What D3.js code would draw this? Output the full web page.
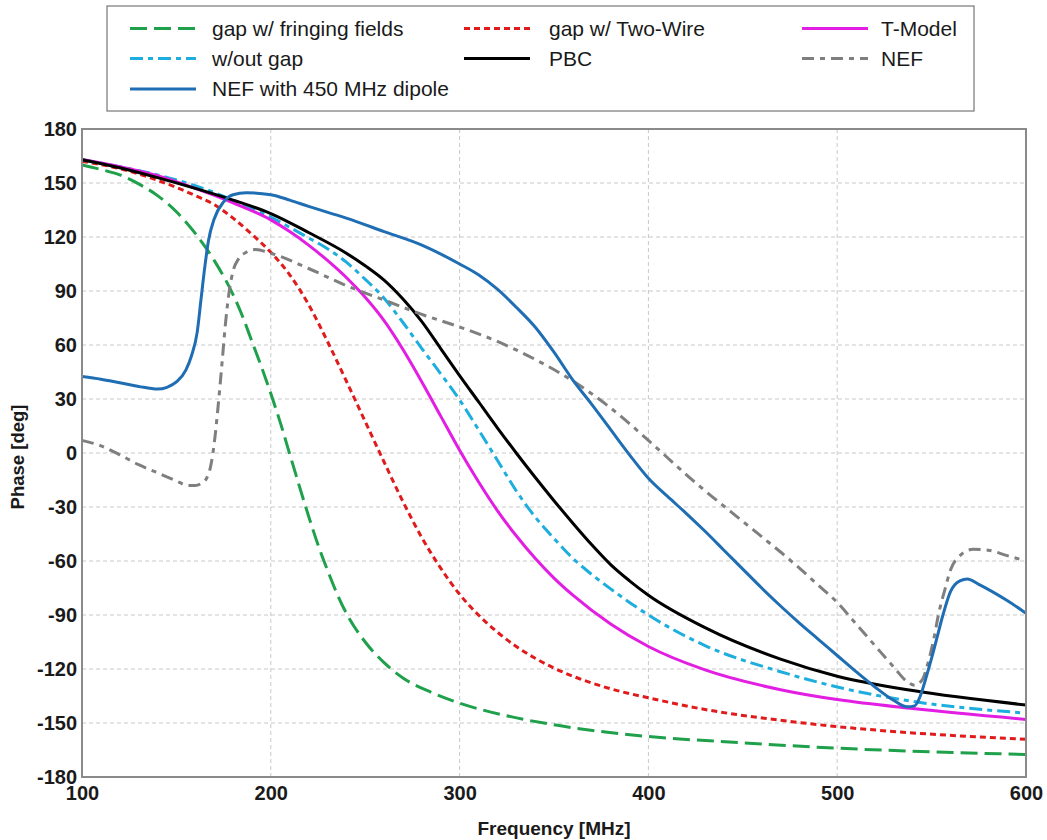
<!DOCTYPE html>
<html>
<head>
<meta charset="utf-8">
<script src="https://cdn.jsdelivr.net/npm/d3@7"></script>
<style>
  body { margin: 0; background: #fff; }
  svg { display: block; }
  text { font-family: "Liberation Sans", Arial, sans-serif; }
</style>
</head>
<body>
<svg id="chart" width="1047" height="840"></svg>
<script>
// ---------- data ----------
const xTicks = [100, 200, 300, 400, 500, 600];
const yTicks = [-180, -150, -120, -90, -60, -30, 0, 30, 60, 90, 120, 150, 180];

const seriesNames = ["gap w/ fringing fields", "gap w/ Two-Wire", "T-Model",
                     "w/out gap", "PBC", "NEF", "NEF with 450 MHz dipole"];

const greenF = [100,110,120,130,140,150,160,170,180,185,190,195,200,205,210,215,220,225,230,235,240,250,260,270,285,300,325,350,400,450,500,550,600];
const greenP = [160,157.5,154.5,149.5,143,134,122,107,88,76,62,48,33,17,-0.5,-18,-35,-51,-65,-78,-89,-105,-116.5,-125,-133,-139,-146,-151,-157.5,-161,-164,-166,-167.5];

const redF = [100,120,140,160,170,180,190,200,210,220,230,240,250,260,270,280,290,300,310,320,330,340,350,360,380,400,430,470,500,540,600];
const redP = [162,158,151.5,143,138,130.5,121.5,111.5,99,82.5,62,40,17.5,-5,-27,-47,-64,-78.5,-90,-99.5,-107.5,-114,-119.5,-124,-131,-136,-142.5,-148.5,-152,-155.5,-159];

const magentaF = [100,120,140,160,180,200,210,220,230,240,250,260,270,280,290,300,310,320,330,340,350,360,380,400,430,470,500,540,600];
const magentaP = [163,159,154,147,139,129.5,123,115.5,107,97.5,86.5,73.5,57.5,39.5,20.5,1.5,-16,-32,-46,-58.5,-69.5,-79,-95,-107.5,-120.5,-131.5,-137,-142,-148];

const cyanF = [100,120,140,160,180,200,220,230,240,250,260,270,280,290,300,310,320,330,340,350,360,370,380,400,430,470,500,540,600];
const cyanP = [163,159,154.5,148.5,140.5,131,119.5,113.5,106,96.5,86,72.5,58,44,29.5,13,-4,-21,-35.5,-47.5,-58.5,-67.5,-75.5,-90,-107,-121.5,-130,-138,-144.5];

const blackF = [100,120,140,160,180,200,220,240,250,260,270,280,290,300,310,320,330,340,350,360,370,380,390,400,430,470,500,540,600];
const blackP = [163,158.5,153,147,140.5,133,122.5,111,104,96,85.5,73,58,43,28.5,14,0,-13.5,-26.5,-39,-51,-62,-71,-79,-97,-114.5,-124,-132,-140];

const grayF = [100,110,120,130,140,150,156,160,163,166,168,170,172,174,176,178,180,183,187,192,200,220,240,260,280,300,320,340,360,380,400,410,420,430,440,450,460,470,480,490,500,510,520,530,537,541,545,548,551,554,557,560,565,572,580,590,600];
const grayP = [7,4,-1,-6.5,-11,-15.5,-18,-18,-17,-14,-8,5,25,48,72,90,101,108,111.5,113,111,102.5,93,85,77,70,62,52,40,25,7,-2.5,-12,-21,-29.5,-38,-46.5,-55,-64,-73.5,-83,-95,-107,-119,-127,-129,-126,-117,-104,-88,-76,-65,-57,-53.5,-54,-57,-60];

const blueF = [100,110,120,130,140,145,150,155,158,161,163,165,167,170,175,180,187,200,210,220,240,260,280,300,310,320,330,340,350,360,370,380,390,400,410,420,430,440,450,460,470,480,490,500,510,520,530,537,541,544,547,550,553,556,560,565,569,575,590,600];
const blueP = [42.5,41,39,37,35.5,36.5,39.5,46,54,67,85,103,118,130,139.5,143.5,144.6,143.5,140.5,137,130.5,123,115.5,105,99,91,81,70,56,40.5,27,13,-1,-14,-24,-33.5,-43.5,-54,-64.5,-75,-85,-94.5,-103.5,-112.5,-121.5,-130,-137.5,-141,-140.5,-135,-125,-114,-102,-90,-77,-71,-70,-73,-82,-89];

// ---------- layout ----------
const svg = d3.select("#chart");
const L = 82, R = 1026, T = 129, B = 777;
const x = d3.scaleLinear().domain([100, 600]).range([L, R]);
const y = d3.scaleLinear().domain([-180, 180]).range([B, T]);

const series = [
  { name: seriesNames[0], f: greenF,   p: greenP,   color: "#1fa04b", dash: "17,7" },
  { name: seriesNames[1], f: redF,     p: redP,     color: "#e01b1b", dash: "6,4" },
  { name: seriesNames[2], f: magentaF, p: magentaP, color: "#e21ee2", dash: null },
  { name: seriesNames[3], f: cyanF,    p: cyanP,    color: "#1eaede", dash: "13,5,5,5" },
  { name: seriesNames[4], f: blackF,   p: blackP,   color: "#000000", dash: null },
  { name: seriesNames[5], f: grayF,    p: grayP,    color: "#7f7f7f", dash: "12,6,5,6" },
  { name: seriesNames[6], f: blueF,    p: blueP,    color: "#1f6eb4", dash: null }
];

// grid
const grid = svg.append("g");
grid.selectAll("line.v").data(xTicks.slice(1, -1)).join("line")
  .attr("x1", d => x(d)).attr("x2", d => x(d)).attr("y1", T).attr("y2", B)
  .attr("stroke", "#c8c8c8").attr("stroke-width", 1).attr("stroke-dasharray", "4,3");
grid.selectAll("line.h").data(yTicks.slice(1, -1)).join("line")
  .attr("x1", L).attr("x2", R).attr("y1", d => y(d)).attr("y2", d => y(d))
  .attr("stroke", "#c8c8c8").attr("stroke-width", 1).attr("stroke-dasharray", "4,3");

// clip
svg.append("defs").append("clipPath").attr("id", "clip")
  .append("rect").attr("x", L).attr("y", T).attr("width", R - L).attr("height", B - T);

const line = d3.line().x(d => x(d[0])).y(d => y(d[1])).curve(d3.curveMonotoneX);
const plot = svg.append("g").attr("clip-path", "url(#clip)");
const drawOrder = [0, 1, 3, 2, 4, 5, 6];
drawOrder.forEach(i => {
  const s = series[i];
  plot.append("path")
    .datum(s.f.map((f, k) => [f, s.p[k]]))
    .attr("d", line)
    .attr("fill", "none")
    .attr("stroke", s.color)
    .attr("stroke-width", 3)
    .attr("stroke-dasharray", s.dash)
    .attr("stroke-linejoin", "round");
});

// frame
svg.append("rect").attr("x", L).attr("y", T).attr("width", R - L).attr("height", B - T)
  .attr("fill", "none").attr("stroke", "#8a8a8a").attr("stroke-width", 2);

// axes (tick labels only, ASCII hyphen for negatives as in the reference)
const fmt = d => String(d);
const yAxis = d3.axisLeft(y).tickValues(yTicks).tickFormat(fmt).tickSize(0).tickPadding(5);
const gy = svg.append("g").attr("transform", `translate(${L},0)`).call(yAxis);
gy.select(".domain").remove();
gy.selectAll("text").attr("font-size", 20).attr("font-weight", "bold").attr("fill", "#1a1a1a")
  .attr("font-family", "'Liberation Sans', Arial, sans-serif");

const xAxis = d3.axisBottom(x).tickValues(xTicks).tickFormat(fmt).tickSize(0).tickPadding(9);
const gx = svg.append("g").attr("transform", `translate(0,${B})`).call(xAxis);
gx.select(".domain").remove();
gx.selectAll("text").attr("font-size", 20).attr("font-weight", "bold").attr("fill", "#1a1a1a")
  .attr("font-family", "'Liberation Sans', Arial, sans-serif");

// axis titles
svg.append("text").attr("x", 554).attr("y", 835).attr("text-anchor", "middle")
  .attr("font-size", 19).attr("font-weight", "bold").attr("fill", "#1a1a1a").text("Frequency [MHz]");
svg.append("text").attr("transform", `translate(24,457) rotate(-90)`)
  .attr("text-anchor", "middle").attr("font-size", 18.5).attr("font-weight", "bold")
  .attr("fill", "#1a1a1a").text("Phase [deg]");

// legend
const leg = svg.append("g");
leg.append("rect").attr("x", 107).attr("y", 6).attr("width", 867).attr("height", 105)
  .attr("fill", "#fff").attr("stroke", "#777").attr("stroke-width", 1.2);
const legendPos = [
  { i: 0, col: 0, row: 0 }, { i: 1, col: 1, row: 0 }, { i: 2, col: 2, row: 0 },
  { i: 3, col: 0, row: 1 }, { i: 4, col: 1, row: 1 }, { i: 5, col: 2, row: 1 },
  { i: 6, col: 0, row: 2 }
];
const colLineX = [130, 464, 802];
const colTextX = [212, 549, 881];
const rowY = [28.5, 58.5, 89];
legendPos.forEach(p => {
  const s = series[p.i];
  const lx = colLineX[p.col], ly = rowY[p.row];
  leg.append("line").attr("x1", lx).attr("x2", lx + 66).attr("y1", ly).attr("y2", ly)
    .attr("stroke", s.color).attr("stroke-width", 3).attr("stroke-dasharray", s.dash);
  leg.append("text").attr("x", colTextX[p.col]).attr("y", ly + 7).attr("font-size", 21)
    .attr("fill", "#1a1a1a").text(s.name);
});
</script>
</body>
</html>
